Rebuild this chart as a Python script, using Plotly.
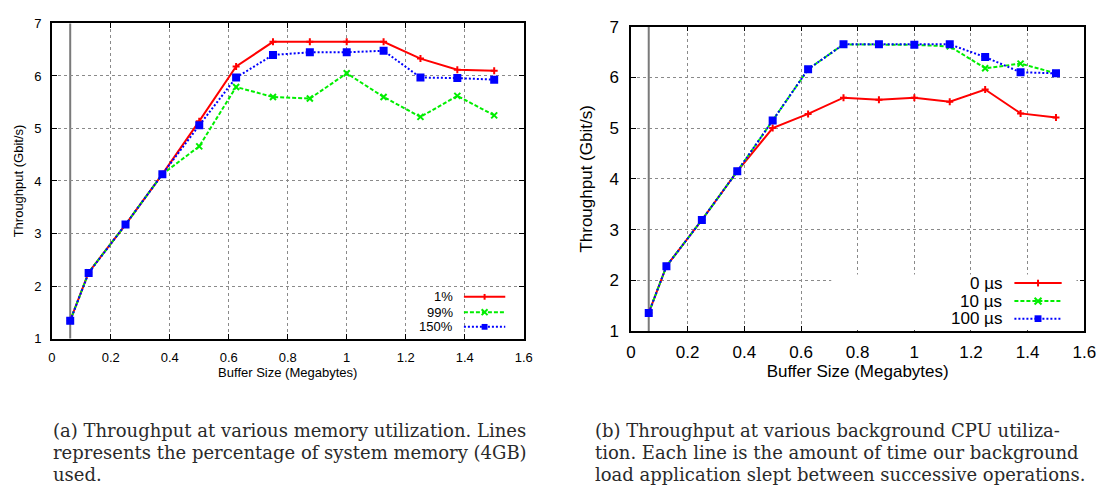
import plotly.graph_objects as go

W, H = 1117, 496

# ---------------- data ----------------
buffer_mb = [0.0625, 0.125, 0.25, 0.375, 0.5, 0.625, 0.75, 0.875, 1.0, 1.125, 1.25, 1.375, 1.5]

# (a) memory utilization
mem_1 = [1.34, 2.26, 3.17, 4.13, 5.14, 6.18, 6.65, 6.65, 6.65, 6.65, 6.33, 6.12, 6.10]
mem_99 = [1.34, 2.26, 3.17, 4.13, 4.66, 5.79, 5.60, 5.57, 6.05, 5.60, 5.22, 5.62, 5.25]
mem_150 = [1.34, 2.25, 3.17, 4.13, 5.06, 5.97, 6.40, 6.45, 6.45, 6.48, 5.97, 5.96, 5.93]
mem_names = ["1%", "99%", "150%"]

# (b) background CPU sleep
cpu_0 = [1.36, 2.28, 3.19, 4.15, 5.00, 5.28, 5.60, 5.56, 5.60, 5.52, 5.76, 5.29, 5.21]
cpu_10 = [1.36, 2.28, 3.19, 4.15, 5.15, 6.16, 6.65, 6.65, 6.64, 6.61, 6.18, 6.27, 6.08]
cpu_100 = [1.36, 2.28, 3.19, 4.15, 5.15, 6.16, 6.65, 6.65, 6.64, 6.65, 6.40, 6.10, 6.08]
cpu_names = ["0 µs", "10 µs", "100 µs"]

x_ticks = [0, 0.2, 0.4, 0.6, 0.8, 1, 1.2, 1.4, 1.6]
y_ticks = [1, 2, 3, 4, 5, 6, 7]
x_title = "Buffer Size (Megabytes)"
y_title = "Throughput (Gbit/s)"
caption_a = ["(a) Throughput at various memory utilization. Lines",
             "represents the percentage of system memory (4GB)",
             "used."]
caption_b = ["(b) Throughput at various background CPU utiliza-",
             "tion. Each line is the amount of time our background",
             "load application slept between successive operations."]

# ---------------- styles ----------------
styles = [
    dict(color="#ff0000", dash="solid", symbol="cross-thin", msize=5),
    dict(color="#00ee00", dash="4px,2px", symbol="x-thin", msize=6),
    dict(color="#0000ff", dash="2px,2px", symbol="square", msize=6),
]
SANS = "Liberation Sans, Arial, sans-serif"
SERIF = "DejaVu Serif, serif"

def px(x):
    return x / W

def py(y):
    return 1 - y / H

fig = go.Figure()

def add_series(xs, ys, name, st, xa, ya):
    fig.add_trace(go.Scatter(
        x=xs, y=ys, name=name, mode="lines+markers", showlegend=False,
        line=dict(color=st["color"], dash=st["dash"], width=2),
        marker=dict(symbol=st["symbol"], size=st["msize"], color=st["color"],
                    line=dict(color=st["color"], width=2)),
        xaxis=xa, yaxis=ya, cliponaxis=False,
    ))

for ys, nm, st in zip([mem_1, mem_99, mem_150], mem_names, styles):
    add_series(buffer_mb, ys, nm, st, "x", "y")
for ys, nm, st in zip([cpu_0, cpu_10, cpu_100], cpu_names, styles):
    add_series(buffer_mb, ys, nm, st, "x2", "y2")

def axis_common(fs, dom, tls):
    return dict(domain=dom, showline=True, linecolor="black", linewidth=1.5, mirror="ticks",
                ticks="inside", ticklen=5, tickcolor="black", tickwidth=1, ticklabelstandoff=tls,
                showgrid=True, gridcolor="#8a8a8a", griddash="dot", gridwidth=1,
                zeroline=False, tickfont=dict(family=SANS, size=fs, color="black"))

LA = dict(x0=47.5, x1=526.7, y0=15, y1=342.7)
RA = dict(x0=635.7, x1=1096, y0=18.3, y1=335)

xa1 = axis_common(13, [px(LA["x0"]), px(LA["x1"])], 6)
xa1.update(range=[0, 1.6], tickvals=x_ticks, ticktext=[f"{v:g}" for v in x_ticks],
           title=dict(text=x_title, font=dict(family=SANS, size=13, color="black"), standoff=4),
           anchor="y")
ya1 = axis_common(13, [py(LA["y1"]), py(LA["y0"])], 6)
ya1.update(range=[1, 7], tickvals=y_ticks,
           title=dict(text=y_title, font=dict(family=SANS, size=13, color="black"), standoff=8),
           anchor="x")
xa2 = axis_common(17, [px(RA["x0"]), px(RA["x1"])], 5)
xa2.update(range=[0, 1.6], tickvals=x_ticks, ticktext=[f"{v:g}" for v in x_ticks],
           title=dict(text=x_title, font=dict(family=SANS, size=17, color="black"), standoff=2),
           anchor="y2")
ya2 = axis_common(17, [py(RA["y1"]), py(RA["y0"])], 7)
ya2.update(range=[1, 7], tickvals=y_ticks,
           title=dict(text=y_title, font=dict(family=SANS, size=17, color="black"), standoff=12),
           anchor="x2")

fig.update_layout(
    width=W, height=H, margin=dict(l=0, r=0, t=0, b=0),
    paper_bgcolor="white", plot_bgcolor="white",
    xaxis=xa1, yaxis=ya1, xaxis2=xa2, yaxis2=ya2,
    showlegend=False,
)

shapes = []
# vertical marker line at the smallest buffer size
for xr, yr in [("x", "y domain"), ("x2", "y2 domain")]:
    shapes.append(dict(type="line", xref=xr, yref=yr, x0=buffer_mb[0], x1=buffer_mb[0], y0=0, y1=1,
                       line=dict(color="#7a7a7a", width=2), layer="below"))

# white legend backdrop in panel (b)
shapes.append(dict(type="rect", xref="paper", yref="paper", x0=px(839), x1=px(1088),
                   y0=py(334), y1=py(276), fillcolor="white", line=dict(width=0), layer="above"))

annotations = []

def legend_block(names, text_right, s0, s1, rows, fs, msz):
    for nm, st, yy in zip(names, styles, rows):
        annotations.append(dict(xref="paper", yref="paper", x=px(text_right), y=py(yy),
                                text=nm, showarrow=False, xanchor="right", yanchor="middle",
                                font=dict(family=SANS, size=fs, color="black")))
        shapes.append(dict(type="line", xref="paper", yref="paper", x0=px(s0), x1=px(s1),
                           y0=py(yy), y1=py(yy), layer="above",
                           line=dict(color=st["color"], width=2, dash=st["dash"])))
        cx = (s0 + s1) / 2
        h = msz / 2
        if st["symbol"] == "square":
            shapes.append(dict(type="rect", xref="paper", yref="paper", layer="above",
                               x0=px(cx - h), x1=px(cx + h), y0=py(yy + h), y1=py(yy - h),
                               fillcolor=st["color"], line=dict(width=0)))
        elif st["symbol"].startswith("x"):
            for a, b in [(-1, 1), (1, -1)]:
                shapes.append(dict(type="line", xref="paper", yref="paper", layer="above",
                                   x0=px(cx - h), x1=px(cx + h), y0=py(yy + a * h), y1=py(yy + b * h),
                                   line=dict(color=st["color"], width=2)))
        else:
            shapes.append(dict(type="line", xref="paper", yref="paper", layer="above",
                               x0=px(cx), x1=px(cx), y0=py(yy - h), y1=py(yy + h),
                               line=dict(color=st["color"], width=2)))

legend_block(mem_names, 456.7, 466, 508, [299.3, 315.3, 330.5], 13, 6)
legend_block(cpu_names, 1014, 1025, 1073, [285, 303.7, 322], 17, 7)

# captions
for lines, x0 in [(caption_a, 47), (caption_b, 597)]:
    for i, ln in enumerate(lines):
        annotations.append(dict(xref="paper", yref="paper", x=px(x0), y=py(438 + 23 * i),
                                text=ln, showarrow=False, xanchor="left", yanchor="middle",
                                font=dict(family=SERIF, size=18, color="#2a2a2a")))

fig.update_layout(shapes=shapes, annotations=annotations)
fig.write_html("out.html")
